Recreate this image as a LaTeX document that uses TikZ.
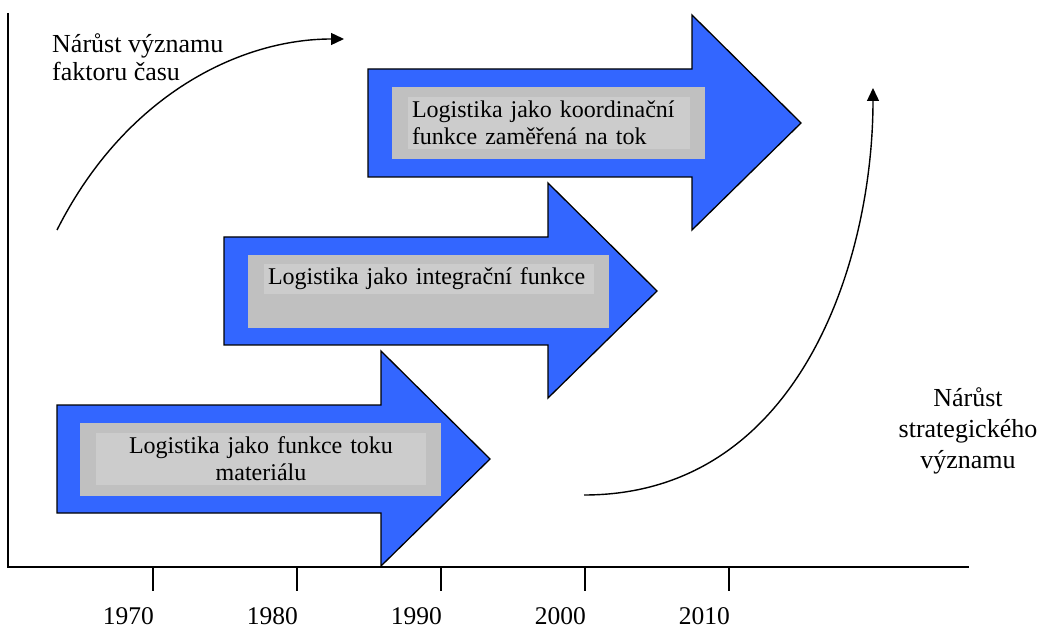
\documentclass[tikz,border=0pt]{standalone}
\usepackage{fontspec}
\setmainfont{Liberation Serif}
\usetikzlibrary{arrows.meta}
\definecolor{arrowblue}{HTML}{3366FF}
\definecolor{boxgray}{HTML}{C0C0C0}
\definecolor{textgray}{HTML}{CCCCCC}
\newcommand{\logarrow}[2]{%
    \draw[blockarrow] (#1,#2-54) -- ++(324,0) -- ++(0,-54) -- ++(109,108) -- ++(-109,107) -- ++(0,-53) -- ++(-324,0) -- cycle;}
\begin{document}
\begin{tikzpicture}[x=1pt, y=-1pt,
    blockarrow/.style={draw=black, line width=1.3pt, fill=arrowblue, line join=miter},
    outerbox/.style={fill=boxgray, inner sep=0pt},
    innerbox/.style={fill=textgray, inner sep=4pt, font=\fontsize{24}{27}\selectfont},
    growth/.style={line width=1.4pt, -{Triangle[length=13pt,width=12pt]}},
    label/.style={inner sep=0pt, font=\fontsize{26}{28.5}\selectfont},
    year/.style={anchor=east, inner sep=0pt, font=\fontsize{25.5}{28}\selectfont}]
    \useasboundingbox (0,0) rectangle (1042,628);
    \draw[line width=1.3pt] (8,13) -- (8,567) -- (969,567);
    \foreach \yr/\xx in {1970/153, 1980/297, 1990/441, 2000/585, 2010/729} {
        \draw[line width=1.3pt] (\xx,567) -- (\xx,591);
        \node[year] (y\yr) at (\xx+1,616) {\yr};
    }
    \logarrow{57}{459}
    \logarrow{224}{291}
    \logarrow{368}{123}
    \node[outerbox, minimum width=361pt, minimum height=73pt] (b1) at (260.5,459.5) {};
    \node[outerbox, minimum width=361pt, minimum height=73pt] (b2) at (428.5,291.5) {};
    \node[outerbox, minimum width=313pt, minimum height=72pt] (b3) at (548.5,123) {};
    \node[innerbox, text width=322pt, minimum height=52pt, align=center] (t1) at (261,459) {Logistika jako funkce toku\\materiálu};
    \node[innerbox, text width=322pt, minimum height=28pt, align=left] (t2) at (429,279) {Logistika jako integrační funkce};
    \node[innerbox, text width=274pt, minimum height=52pt, align=left] (t3) at (549,123) {Logistika jako koordinační\\funkce zaměřená na tok};
    \node[label, anchor=west, align=left] (gtime) at (52,57) {Nárůst významu\\faktoru času};
    \node[label, align=center, font=\fontsize{26}{31}\selectfont] (gstrat) at (968,431) {Nárůst\\strategického\\významu};
    \coordinate (tstart) at (57,230);
    \coordinate (tend) at (344,39);
    \coordinate (sstart) at (584,495);
    \coordinate (send) at (873,88);
    \draw[growth] (tstart) .. controls (125,95) and (240,39) .. (tend);
    \draw[growth] (sstart) .. controls (800,495) and (873,260) .. (send);
\end{tikzpicture}
\end{document}
